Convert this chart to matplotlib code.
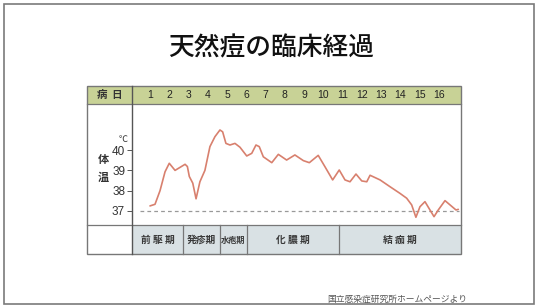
import matplotlib
matplotlib.use("Agg")
import matplotlib.pyplot as plt
from matplotlib.patches import Rectangle
from matplotlib.transforms import blended_transform_factory

plt.rcParams['font.family'] = ['Noto Sans CJK JP', 'DejaVu Sans']

# data
title = '天然痘の臨床経過'
source = '国立感染症研究所ホームページより'
day_labels = [str(d) for d in range(1, 17)]
temp_ticks = [37, 38, 39, 40]
days = [1.00, 1.26, 1.52, 1.78, 2.00, 2.30, 2.56, 2.82, 2.94, 3.04, 3.22, 3.39,
        3.59, 3.85, 4.11, 4.37, 4.63, 4.77, 4.94, 5.15, 5.41, 5.67, 6.02, 6.28,
        6.50, 6.67, 6.88, 7.32, 7.66, 8.09, 8.52, 8.96, 9.27, 9.73, 10.08, 10.48,
        10.82, 11.12, 11.38, 11.69, 11.99, 12.25, 12.42, 12.94, 13.45, 13.97,
        14.32, 14.58, 14.80, 15.01, 15.27, 15.53, 15.74, 15.96, 16.31, 16.57,
        16.88, 17.00]
temps = [37.25, 37.33, 38.0, 38.93, 39.35, 39.0, 39.15, 39.3, 39.19, 38.7, 38.37, 37.6,
         38.44, 39.0, 40.17, 40.66, 40.99, 40.9, 40.33, 40.25, 40.33, 40.14, 39.71, 39.84,
         40.25, 40.17, 39.67, 39.38, 39.79, 39.51, 39.76, 39.48, 39.38, 39.74, 39.18, 38.53,
         39.02, 38.53, 38.44, 38.82, 38.48, 38.44, 38.76, 38.53, 38.2, 37.87,
         37.63, 37.3, 36.69, 37.21, 37.46, 37.05, 36.72, 37.05, 37.51, 37.3,
         37.05, 37.08]
phase_names = ['前 駆 期', '発疹期', '水疱期', '化 膿 期', '結 痂 期']
phase_edges = [0.066, 2.71, 4.63, 6.03, 10.81, 17.14]

W, H = 536, 307
fig = plt.figure(figsize=(W / 100, H / 100), dpi=100)
fig.patch.set_facecolor('white')

# frame axes in pixel coordinates
fr = fig.add_axes([0, 0, 1, 1])
fr.set_xlim(0, W)
fr.set_ylim(H, 0)
fr.axis('off')

fr.add_patch(Rectangle((4, 4), 530, 300, fill=False, edgecolor='#7a7a7a', lw=1.2))
fr.text(271, 48, title, ha='center', va='center', fontsize=18.5, fontweight='medium', color='#111111')

tl, tr = 87, 461
t_top, h_bot, c_bot, t_bot = 86, 104, 225, 254
lab_r = 132
fr.add_patch(Rectangle((tl, t_top), tr - tl, h_bot - t_top, facecolor='#c8d296', edgecolor='none'))
fr.add_patch(Rectangle((lab_r, c_bot), tr - lab_r, t_bot - c_bot, facecolor='#d9e1e4', edgecolor='none'))
fr.add_patch(Rectangle((tl, t_top), tr - tl, t_bot - t_top, fill=False, edgecolor='#777777', lw=1.0))
fr.plot([tl, tr], [h_bot, h_bot], color='#777777', lw=0.9)
fr.plot([tl, tr], [c_bot, c_bot], color='#777777', lw=0.9)
fr.plot([lab_r, lab_r], [t_top, t_bot], color='#555555', lw=1.0)

fr.text(110, 95, '病  日', ha='center', va='center', fontsize=7.5, fontweight='bold', color='#333333')
fr.text(103, 160, '体', ha='center', va='center', fontsize=8, fontweight='bold', color='#333333')
fr.text(103, 177, '温', ha='center', va='center', fontsize=8, fontweight='bold', color='#333333')
fr.text(123, 139, '℃', ha='center', va='center', fontsize=6.5, color='#333333')
fr.text(467, 299, source, ha='right', va='center', fontsize=6.3, color='#555555')

# chart axes
ax = fig.add_axes([lab_r / W, 1 - c_bot / H, (tr - lab_r) / W, (c_bot - h_bot) / H])
ax.set_xlim(phase_edges[0], phase_edges[-1])
ax.set_ylim(36.31, 42.27)
ax.patch.set_alpha(0)
for s in ax.spines.values():
    s.set_visible(False)
ax.set_xticks([])
ax.set_yticks(temp_ticks)
ax.set_yticklabels([str(t) for t in temp_ticks], family='Liberation Sans', fontsize=8.5, color='#333333')
ax.tick_params(axis='y', length=3.5, width=0.7, color='#555555', pad=1.5)

ax.axhline(37, xmin=0.025, xmax=0.995, color='#999999', lw=0.9, ls=(0, (3, 2.5)))
ax.plot(days, temps, color='#d8806e', lw=1.2, solid_capstyle='round', solid_joinstyle='round')

tx = blended_transform_factory(ax.transData, fr.transData)
for i, lab in enumerate(day_labels):
    ax.text(i + 1, 95, lab, transform=tx, ha='center', va='center',
            family='Liberation Sans', fontsize=7.5, color='#222222')

for k, name in enumerate(phase_names):
    x0, x1 = phase_edges[k], phase_edges[k + 1]
    if k > 0:
        ax.plot([x0, x0], [c_bot, t_bot], transform=tx, color='#777777', lw=0.9, clip_on=False)
    fs = 5.9 if name == '水疱期' else 7
    ax.text((x0 + x1) / 2, 240, name, transform=tx, ha='center', va='center',
            fontsize=fs, fontweight='bold', color='#3a3a3a')

fig.savefig('out.png', dpi=100)
